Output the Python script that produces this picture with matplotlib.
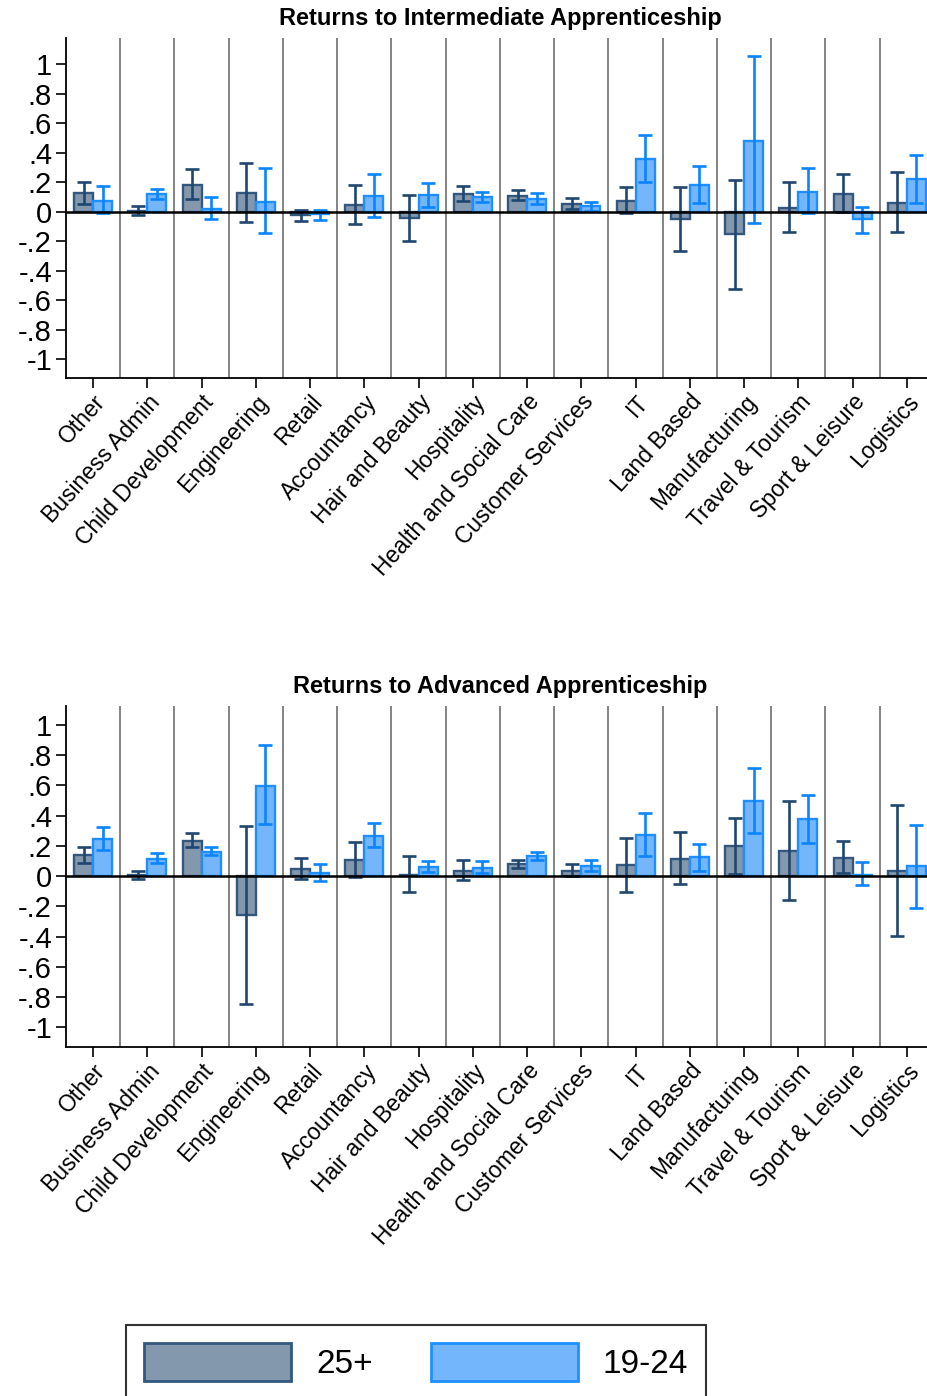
import matplotlib
matplotlib.use("Agg")
import matplotlib.pyplot as plt
from matplotlib.patches import Patch
import numpy as np

plt.rcParams['font.family'] = ['Liberation Sans', 'DejaVu Sans']

categories = ["Other", "Business Admin", "Child Development", "Engineering", "Retail",
              "Accountancy", "Hair and Beauty", "Hospitality", "Health and Social Care",
              "Customer Services", "IT", "Land Based", "Manufacturing", "Travel & Tourism",
              "Sport & Leisure", "Logistics"]

# Intermediate apprenticeship
int_25_est = [0.124, 0.005, 0.183, 0.129, -0.025, 0.047, -0.041, 0.122, 0.108, 0.054, 0.074, -0.047, -0.149, 0.025, 0.122, 0.061]
int_25_lo = [0.055, -0.025, 0.084, -0.070, -0.063, -0.086, -0.196, 0.075, 0.077, 0.018, -0.010, -0.264, -0.524, -0.140, -0.005, -0.135]
int_25_hi = [0.199, 0.038, 0.287, 0.327, 0.011, 0.183, 0.115, 0.174, 0.144, 0.090, 0.165, 0.165, 0.217, 0.200, 0.253, 0.269]
int_19_est = [0.074, 0.117, 0.020, 0.068, -0.015, 0.108, 0.115, 0.097, 0.088, 0.036, 0.357, 0.178, 0.481, 0.135, -0.047, 0.221]
int_19_lo = [-0.010, 0.085, -0.047, -0.147, -0.054, -0.038, 0.029, 0.063, 0.054, 0.005, 0.203, 0.056, -0.079, -0.010, -0.142, 0.061]
int_19_hi = [0.174, 0.156, 0.097, 0.293, 0.014, 0.255, 0.192, 0.131, 0.126, 0.065, 0.517, 0.309, 1.052, 0.298, 0.034, 0.386]

# Advanced apprenticeship
adv_25_est = [0.137, 0.005, 0.233, -0.258, 0.044, 0.104, 0.005, 0.035, 0.077, 0.035, 0.073, 0.115, 0.196, 0.163, 0.121, 0.033]
adv_25_lo = [0.084, -0.018, 0.194, -0.848, -0.018, -0.004, -0.106, -0.026, 0.055, 0.002, -0.104, -0.055, 0.015, -0.161, 0.018, -0.394]
adv_25_hi = [0.194, 0.035, 0.282, 0.328, 0.117, 0.225, 0.134, 0.104, 0.106, 0.079, 0.253, 0.291, 0.381, 0.498, 0.231, 0.469]
adv_19_est = [0.247, 0.115, 0.156, 0.597, 0.022, 0.267, 0.057, 0.051, 0.132, 0.064, 0.269, 0.123, 0.496, 0.374, 0.010, 0.064]
adv_19_lo = [0.172, 0.084, 0.137, 0.344, -0.031, 0.192, 0.026, 0.018, 0.106, 0.031, 0.134, 0.035, 0.284, 0.218, -0.062, -0.209]
adv_19_hi = [0.326, 0.150, 0.194, 0.866, 0.079, 0.350, 0.099, 0.099, 0.161, 0.106, 0.416, 0.214, 0.714, 0.535, 0.095, 0.339]

y_ticks = [1, 0.8, 0.6, 0.4, 0.2, 0, -0.2, -0.4, -0.6, -0.8, -1]
y_tick_labels = ["1", ".8", ".6", ".4", ".2", "0", "-.2", "-.4", "-.6", "-.8", "-1"]

series_names = ["25+", "19-24"]
fill_colors = ["#8498ad", "#74b6fb"]
edge_colors = ["#34587d", "#1f8fff"]
err_colors = ["#1f466f", "#0a84ff"]

W, H = 928, 1396
fig = plt.figure(figsize=(W / 100, H / 100), dpi=100)

def fx(px):
    return px / W

def fy(py):
    return 1 - py / H

panels = [
    ("Returns to Intermediate Apprenticeship", (int_25_est, int_25_lo, int_25_hi), (int_19_est, int_19_lo, int_19_hi), 38, 378, (-1.126, 1.176)),
    ("Returns to Advanced Apprenticeship", (adv_25_est, adv_25_lo, adv_25_hi), (adv_19_est, adv_19_lo, adv_19_hi), 706, 1047, (-1.13, 1.124)),
]

x = np.arange(len(categories))
bw = 0.35
ax_left, ax_right = 66, 934
for title, s25, s19, top, bot, ylim in panels:
    ax = fig.add_axes([fx(ax_left), fy(bot), fx(ax_right - ax_left), (bot - top) / H])
    for k, (est, lo, hi) in enumerate([s25, s19]):
        est = np.array(est); lo = np.array(lo); hi = np.array(hi)
        pos = x + (-1 if k == 0 else 1) * bw / 2
        ax.bar(pos, est, width=bw, color=fill_colors[k], edgecolor=edge_colors[k],
               linewidth=1.7, zorder=2)
        ax.errorbar(pos, est, yerr=[est - lo, hi - est], fmt='none',
                    ecolor=err_colors[k], elinewidth=1.9, capsize=5, capthick=1.9, zorder=3)
    for i in range(len(categories) - 1):
        ax.axvline(i + 0.5, color="#707070", linewidth=1.2, zorder=1)
    ax.axhline(0, color="black", linewidth=1.8, zorder=4)
    ax.set_xlim(-0.5, len(categories) - 0.5)
    ax.set_ylim(*ylim)
    ax.set_yticks(y_ticks)
    ax.set_yticklabels(y_tick_labels, fontsize=21)
    ax.set_xticks(x)
    ax.set_xticklabels(categories, rotation=48, ha="right", va="top",
                       rotation_mode="anchor", fontsize=16.5)
    ax.tick_params(axis="both", direction="out", length=7, width=1.2, color="black")
    ax.tick_params(axis="x", pad=2)
    ax.tick_params(axis="y", pad=3)
    for side in ["top", "right"]:
        ax.spines[side].set_visible(False)
    for side in ["left", "bottom"]:
        ax.spines[side].set_linewidth(1.3)
        ax.spines[side].set_color("black")
    ax.set_title(title, fontsize=17, fontweight="bold", pad=9)

handles = [Patch(facecolor=fill_colors[k], edgecolor=edge_colors[k], linewidth=2.0,
                 label=series_names[k]) for k in range(2)]
leg = fig.legend(handles=handles, loc="upper left", bbox_to_anchor=(fx(126), fy(1325)),
                 ncol=2, fontsize=24, frameon=True, fancybox=False, edgecolor="black",
                 handlelength=4.4, handleheight=1.35, handletextpad=0.75,
                 columnspacing=1.75, borderpad=0.55, borderaxespad=0)
leg.get_frame().set_linewidth(1.5)

fig.savefig("out.png", dpi=100)
